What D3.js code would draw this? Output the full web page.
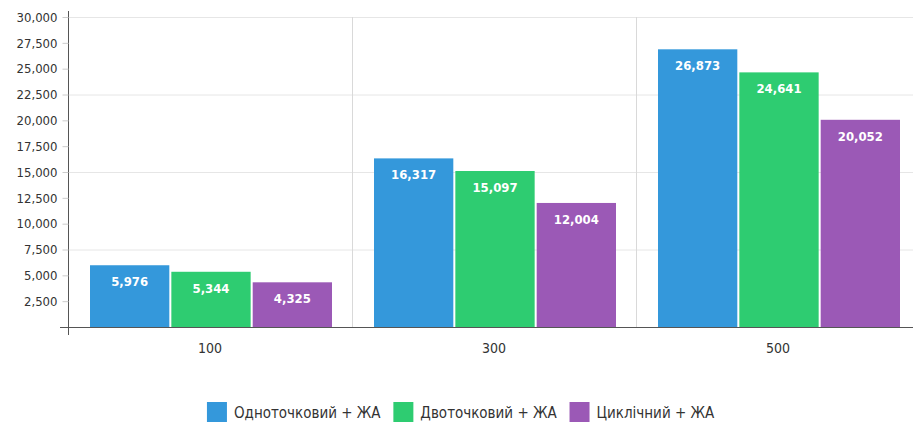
<!DOCTYPE html>
<html>
<head>
<meta charset="utf-8">
<script src="https://cdn.jsdelivr.net/npm/d3@7"></script>
<style>
  body { margin: 0; background: #fff; }
  svg text { font-family: "DejaVu Sans Condensed", "DejaVu Sans", sans-serif; font-stretch: condensed; }
</style>
</head>
<body>
<script>
// Chart data
var categories = ["100", "300", "500"];
var seriesNames = ["Одноточковий + ЖА", "Двоточковий + ЖА", "Циклічний + ЖА"];
var seriesColors = ["#3498db", "#2ecc71", "#9b59b6"];
var single = [5976, 16317, 26873];
var double = [5344, 15097, 24641];
var cyclic = [4325, 12004, 20052];
var yTicks = [2500, 5000, 7500, 10000, 12500, 15000, 17500, 20000, 22500, 25000, 27500, 30000];
var gridTicks = [7500, 15000, 22500, 30000];

var w = 913, h = 427;
var mLeft = 68, mTop = 17, mBottom = 327;
var bandW = 284;

var svg = d3.select("body").append("svg")
    .attr("width", w)
    .attr("height", h);

var x0 = d3.scaleBand()
    .domain(categories)
    .range([mLeft, mLeft + bandW * categories.length])
    .paddingInner(0)
    .paddingOuter(0);

var x1 = d3.scaleBand()
    .domain(d3.range(seriesNames.length))
    .range([22, bandW - 20])
    .paddingInner(0.025);

var y = d3.scaleLinear()
    .domain([0, 30000])
    .range([mBottom, mTop]);

// horizontal gridlines
svg.append("g").selectAll("line")
    .data(gridTicks)
    .enter().append("line")
    .attr("x1", mLeft).attr("x2", w)
    .attr("y1", function (d) { return y(d) + 0.5; })
    .attr("y2", function (d) { return y(d) + 0.5; })
    .attr("stroke", "#e6e6e6");

// vertical separators between categories
svg.append("g").selectAll("line")
    .data(categories.slice(1))
    .enter().append("line")
    .attr("x1", function (d) { return x0(d) + 0.5; })
    .attr("x2", function (d) { return x0(d) + 0.5; })
    .attr("y1", mTop).attr("y2", mBottom)
    .attr("stroke", "#d9d9d9");

// bars
var rows = categories.map(function (c, i) {
    return { cat: c, vals: [single[i], double[i], cyclic[i]] };
});

var groups = svg.append("g").selectAll("g")
    .data(rows)
    .enter().append("g")
    .attr("transform", function (d) { return "translate(" + x0(d.cat) + ",0)"; });

groups.selectAll("rect")
    .data(function (d) { return d.vals; })
    .enter().append("rect")
    .attr("x", function (d, i) { return x1(i); })
    .attr("y", function (d) { return y(d); })
    .attr("width", x1.bandwidth())
    .attr("height", function (d) { return mBottom - y(d); })
    .attr("fill", function (d, i) { return seriesColors[i]; });

groups.selectAll("text")
    .data(function (d) { return d.vals; })
    .enter().append("text")
    .attr("x", function (d, i) { return x1(i) + x1.bandwidth() / 2; })
    .attr("y", function (d) { return y(d) + 21; })
    .attr("text-anchor", "middle")
    .attr("fill", "#fff")
    .attr("font-size", 13)
    .attr("font-weight", "bold")
    .text(function (d) { return d3.format(",")(d); });

// y axis
var yAxis = d3.axisLeft(y)
    .tickValues(yTicks)
    .tickSize(6)
    .tickPadding(5)
    .tickFormat(d3.format(","));

var gy = svg.append("g")
    .attr("transform", "translate(" + (mLeft + 0.5) + ",0)")
    .call(yAxis);
gy.attr("font-family", null);
gy.select(".domain").attr("d", "M0," + (mTop - 6) + "V" + (mBottom + 8)).attr("stroke", "#555");
gy.selectAll(".tick line").attr("stroke", "#ccc");
gy.selectAll(".tick text")
    .attr("fill", "#333")
    .attr("font-size", 13);

// x axis
var gx = svg.append("g")
    .attr("transform", "translate(0," + (mBottom + 0.5) + ")")
    .call(d3.axisBottom(x0).tickSize(0).tickPadding(16));
gx.attr("font-family", null);
gx.select(".domain").attr("d", "M" + (mLeft - 8) + ",0H" + w).attr("stroke", "#555");
gx.selectAll(".tick text")
    .attr("fill", "#333")
    .attr("font-size", 14);

// legend: laid out in a row, centred under the chart
var legend = svg.append("g").attr("transform", "translate(0,402)");
var items = legend.selectAll("g")
    .data(seriesNames)
    .enter().append("g");

items.append("rect")
    .attr("width", 20).attr("height", 20)
    .attr("fill", function (d, i) { return seriesColors[i]; });

items.append("text")
    .attr("x", 27).attr("y", 16)
    .attr("fill", "#333")
    .attr("font-size", 15)
    .text(function (d) { return d; });

var pos = 0, offsets = [];
items.each(function () {
    offsets.push(pos);
    pos += this.getBBox().width + 12;
});
var startX = 461 - (pos - 12) / 2;
items.attr("transform", function (d, i) { return "translate(" + (startX + offsets[i]) + ",0)"; });
</script>
</body>
</html>
